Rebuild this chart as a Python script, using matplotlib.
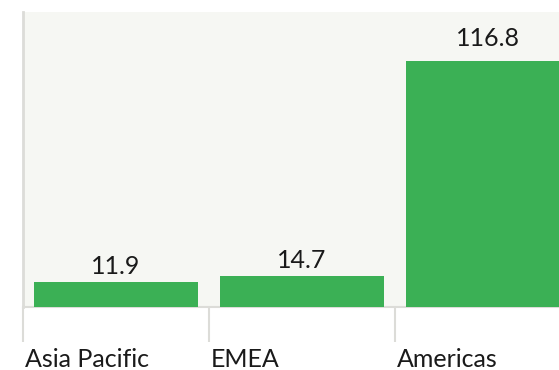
import matplotlib
matplotlib.use("Agg")
import matplotlib.pyplot as plt
import matplotlib.transforms as mtransforms

# data
regions = ["Asia Pacific", "EMEA", "Americas"]
values = [11.9, 14.7, 116.8]

BAR_GREEN = "#3bb055"
PANEL_BG = "#f6f7f3"
GRID_GREY = "#dcdcd8"
TEXT_COL = "#1a1a1a"

plt.rcParams["font.family"] = ["Lato", "DejaVu Sans"]

fig = plt.figure(figsize=(5.59, 3.70), dpi=100)
ax = fig.add_axes([23 / 559, 63 / 370, 558 / 559, 295 / 370])
ax.set_facecolor(PANEL_BG)

x = list(range(len(regions)))
bars = ax.bar(x, values, width=0.887, color=BAR_GREEN, zorder=3)
# labels sit a little above the bar, drifting up slightly with height
for b, v in zip(bars, values):
    ax.annotate(f"{v:.1f}", (b.get_x() + b.get_width() / 2, v * 1.032),
                xytext=(0, 5.1), textcoords="offset points",
                ha="center", va="baseline", fontsize=18, color=TEXT_COL)

ax.set_xlim(-0.5, len(regions) - 0.5)
ax.set_ylim(0, 140)
ax.set_yticks([])

for side in ["top", "right"]:
    ax.spines[side].set_visible(False)
ax.spines["left"].set_color(GRID_GREY)
ax.spines["left"].set_linewidth(2)
ax.spines["bottom"].set_color(GRID_GREY)
ax.spines["bottom"].set_linewidth(1.5)

# band boundary ticks with left-aligned labels
bounds = [i - 0.5 for i in x]
ax.set_xticks(bounds)
ax.set_xticklabels([])
ax.tick_params(axis="x", length=25, width=1.5, color=GRID_GREY, direction="out")

trans = mtransforms.blended_transform_factory(ax.transData, ax.transAxes)
for b, name in zip(bounds, regions):
    ax.annotate(name, (b, -0.203), xycoords=trans,
                xytext=(1.5, 0), textcoords="offset points",
                ha="left", va="baseline", fontsize=18, color=TEXT_COL)

fig.savefig("out.png", dpi=100)
